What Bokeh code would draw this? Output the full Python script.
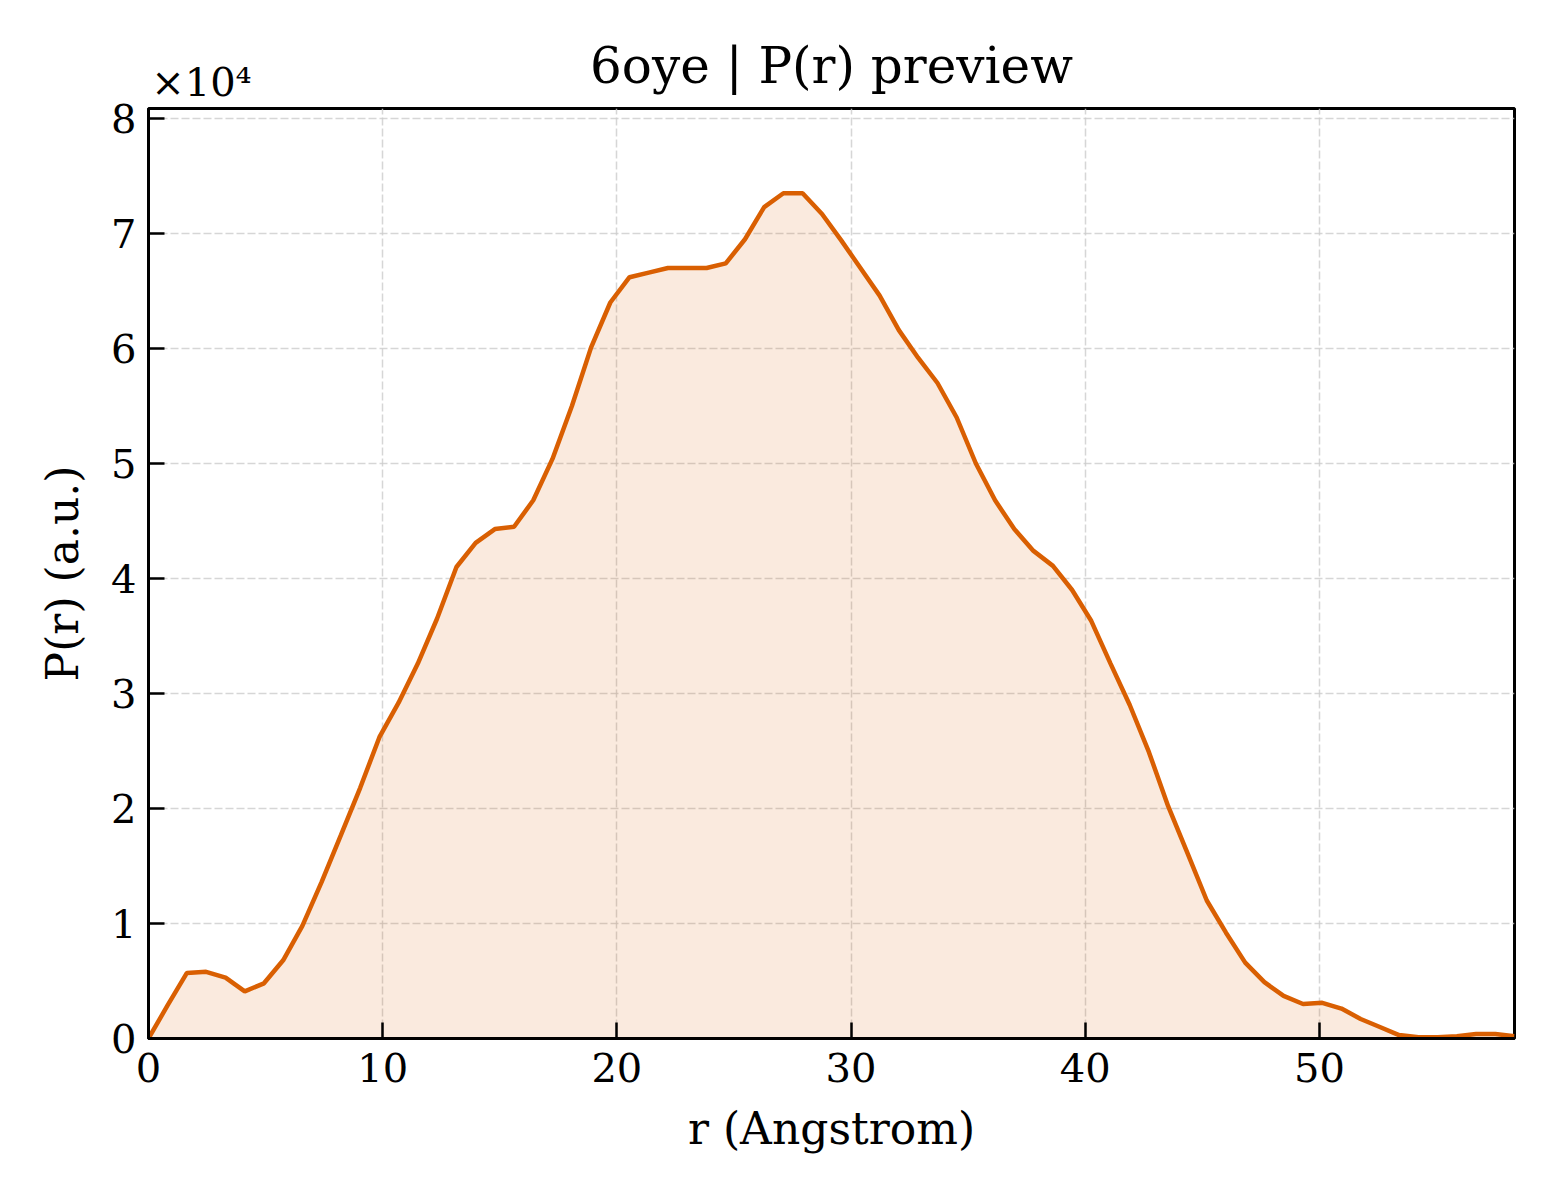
from bokeh.plotting import figure
from bokeh.models import Range1d, FixedTicker, LinearAxis
from bokeh.embed import file_html
from bokeh.resources import INLINE

# r in Angstrom, P(r) in units of 1e4 (a.u.)
r = [0.00, 0.82, 1.64, 2.46, 3.29, 4.11, 4.93, 5.75, 6.57, 7.39,
     8.22, 9.04, 9.86, 10.68, 11.50, 12.32, 13.15, 13.97, 14.79, 15.61,
     16.43, 17.25, 18.08, 18.90, 19.72, 20.54, 21.36, 22.18, 23.00, 23.83,
     24.65, 25.47, 26.29, 27.11, 27.93, 28.76, 29.58, 30.40, 31.22, 32.04,
     32.86, 33.69, 34.51, 35.33, 36.15, 36.97, 37.79, 38.62, 39.44, 40.26,
     41.08, 41.90, 42.72, 43.54, 44.37, 45.19, 46.01, 46.83, 47.65, 48.47,
     49.30, 50.12, 50.94, 51.76, 52.58, 53.40, 54.23, 55.05, 55.87, 56.69,
     57.51, 58.33]
pr = [0.00, 0.29, 0.57, 0.58, 0.53, 0.41, 0.48, 0.68, 0.98, 1.36,
      1.77, 2.18, 2.62, 2.92, 3.26, 3.65, 4.10, 4.31, 4.43, 4.45,
      4.68, 5.04, 5.50, 6.01, 6.40, 6.62, 6.66, 6.70, 6.70, 6.70,
      6.74, 6.95, 7.23, 7.35, 7.35, 7.17, 6.94, 6.70, 6.46, 6.16,
      5.92, 5.70, 5.40, 5.00, 4.68, 4.43, 4.24, 4.11, 3.90, 3.63,
      3.26, 2.90, 2.49, 2.02, 1.61, 1.20, 0.92, 0.66, 0.49, 0.37,
      0.30, 0.31, 0.26, 0.17, 0.10, 0.03, 0.01, 0.01, 0.02, 0.04,
      0.04, 0.02]
x_ticks = [0, 10, 20, 30, 40, 50]
y_ticks = [0, 1, 2, 3, 4, 5, 6, 7, 8]
title = "6oye | P(r) preview"
offset_text = "×10⁴"

FONT = "DejaVu Serif"
col = "#d95f02"

p = figure(width=1552, height=1192, output_backend="svg", toolbar_location=None, title=None,
           x_range=Range1d(0, 58.33), y_range=Range1d(0, 8.087),
           min_border_left=148, min_border_right=38, min_border_top=108, min_border_bottom=154)

p.varea(x=r, y1=0, y2=pr, fill_color=col, fill_alpha=0.13)
p.line(r, pr, line_color=col, line_width=4.5)

p.outline_line_color = "black"
p.outline_line_width = 3
p.background_fill_color = "white"
p.border_fill_color = "white"

xax = p.below[0]
yax = p.left[0]
xax.ticker = FixedTicker(ticks=x_ticks)
yax.ticker = FixedTicker(ticks=y_ticks)
xax.axis_label = "r (Angstrom)"
yax.axis_label = "P(r) (a.u.)"

for ax in [xax, yax]:
    ax.axis_line_color = "black"
    ax.axis_line_width = 3
    ax.major_tick_in = 16
    ax.major_tick_out = 0
    ax.major_tick_line_width = 2.5
    ax.major_tick_line_color = "black"
    ax.minor_tick_line_color = None
    ax.major_label_text_font = FONT
    ax.major_label_text_font_size = "40px"
    ax.major_label_text_color = "black"
    ax.axis_label_text_font = FONT
    ax.axis_label_text_font_size = "44px"
    ax.axis_label_text_font_style = "normal"
    ax.axis_label_text_color = "black"

xax.major_label_standoff = 14
yax.major_label_standoff = 12
xax.axis_label_standoff = 18
yax.axis_label_standoff = 20

# top "axis" only carries the offset text (as tick label) and the title (as axis label)
top = LinearAxis(ticker=FixedTicker(ticks=[2.26]), major_label_overrides={2.26: offset_text})
top.axis_line_color = None
top.major_tick_line_color = None
top.minor_tick_line_color = None
top.major_label_text_font = FONT
top.major_label_text_font_size = "40px"
top.major_label_text_color = "black"
top.major_label_standoff = -2
top.axis_label = title
top.axis_label_text_font = FONT
top.axis_label_text_font_size = "50px"
top.axis_label_text_font_style = "normal"
top.axis_label_text_color = "black"
top.axis_label_standoff = -39
p.add_layout(top, "above")

p.grid.grid_line_color = "#cccccc"
p.grid.grid_line_alpha = 0.8
p.grid.grid_line_width = 1.5
p.grid.grid_line_dash = "8 3"

open("out.html", "w").write(file_html(p, INLINE))
